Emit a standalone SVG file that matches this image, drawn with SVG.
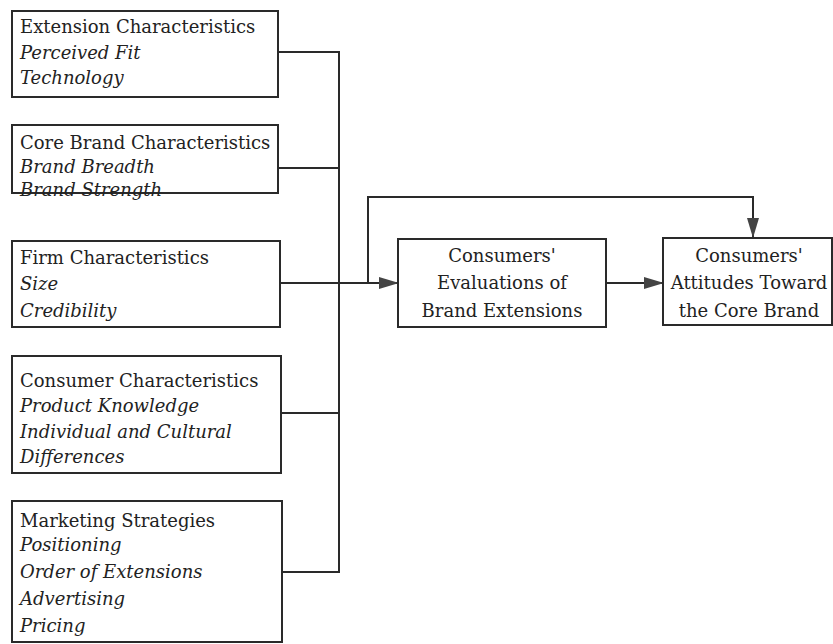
<svg xmlns="http://www.w3.org/2000/svg" width="833" height="644" viewBox="0 0 833 644">
<defs>
<marker id="ah" markerWidth="20" markerHeight="12" refX="19" refY="6" orient="auto" markerUnits="userSpaceOnUse">
<path d="M0,0 L20,6 L0,12 Z" fill="#444"/>
</marker>
<style>
.box{fill:#fff;stroke:#2a2a2a;stroke-width:2}
.ln{fill:none;stroke:#2a2a2a;stroke-width:2}
</style>
</defs>
<rect width="833" height="644" fill="#fff"/>
<g id="connectors">
<path class="ln" d="M278,52 H339 V572 H282"/>
<path class="ln" d="M278,168 H339"/>
<path class="ln" d="M339,413 H281"/>
<path class="ln" d="M280,283 H398" marker-end="url(#ah)"/>
<path class="ln" d="M368,283 V197 H753 V237" marker-end="url(#ah)"/>
<path class="ln" d="M606,283 H663" marker-end="url(#ah)"/>
</g>
<g font-family="'DejaVu Serif', 'Liberation Serif', serif" font-size="18" fill="#222">
<g id="n1">
<rect class="box" x="12" y="11" width="266" height="86"/>
<text x="20" y="33">Extension Characteristics</text>
<text x="20" y="59" font-style="italic">Perceived Fit</text>
<text x="20" y="84" font-style="italic">Technology</text>
</g>
<g id="n2">
<rect class="box" x="12" y="125" width="266" height="68"/>
<text x="20" y="149">Core Brand Characteristics</text>
<text x="20" y="173" font-style="italic">Brand Breadth</text>
<text x="20" y="196" font-style="italic">Brand Strength</text>
</g>
<g id="n3">
<rect class="box" x="12" y="241" width="268" height="86"/>
<text x="20" y="264">Firm Characteristics</text>
<text x="20" y="290" font-style="italic">Size</text>
<text x="20" y="317" font-style="italic">Credibility</text>
</g>
<g id="n4">
<rect class="box" x="12" y="356" width="269" height="117"/>
<text x="20" y="387">Consumer Characteristics</text>
<text x="20" y="412" font-style="italic">Product Knowledge</text>
<text x="20" y="438" font-style="italic">Individual and Cultural</text>
<text x="20" y="463" font-style="italic">Differences</text>
</g>
<g id="n5">
<rect class="box" x="12" y="501" width="270" height="141"/>
<text x="20" y="527">Marketing Strategies</text>
<text x="20" y="551" font-style="italic">Positioning</text>
<text x="20" y="578" font-style="italic">Order of Extensions</text>
<text x="20" y="605" font-style="italic">Advertising</text>
<text x="20" y="632" font-style="italic">Pricing</text>
</g>
<g id="n6" text-anchor="middle">
<rect class="box" x="398" y="239" width="208" height="88"/>
<text x="502" y="262">Consumers'</text>
<text x="502" y="289">Evaluations of</text>
<text x="502" y="317">Brand Extensions</text>
</g>
<g id="n7" text-anchor="middle">
<rect class="box" x="663" y="238" width="169" height="87"/>
<text x="749" y="262">Consumers'</text>
<text x="749" y="289">Attitudes Toward</text>
<text x="749" y="317">the Core Brand</text>
</g>
</g>
</svg>
